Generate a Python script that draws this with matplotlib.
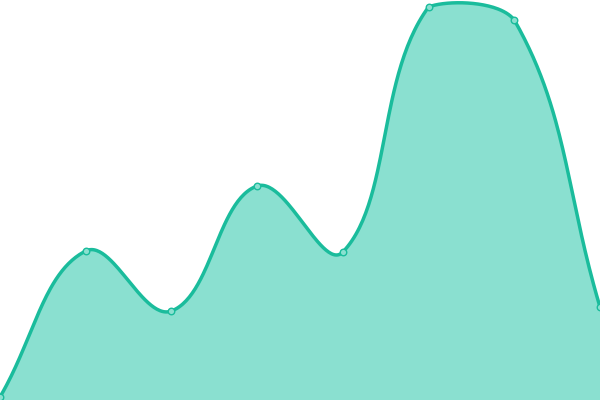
import numpy as np
import matplotlib
matplotlib.use("Agg")
import matplotlib.pyplot as plt

categories = ["A", "B", "C", "D", "E", "F", "G", "H"]
values = [3, 149, 89, 214, 148, 393, 380, 93]

LINE = "#1abc9c"
FILL = "#8ae0d0"
TENSION = 0.4

fig = plt.figure(figsize=(6, 4), dpi=100)
ax = fig.add_axes([0, 0, 1, 1])
ax.set_xlim(0, len(categories) - 1)
ax.set_ylim(0, 400)
ax.axis("off")

x = np.arange(len(categories), dtype=float)
pts = ax.transData.transform(np.column_stack([x, values]))
bb = ax.bbox
n = len(pts)

# spline control points (distance weighted), capped to chart area
cps = []
for i in range(n):
    prev = pts[i - 1] if i > 0 else pts[i]
    cur = pts[i]
    nxt = pts[i + 1] if i < n - 1 else pts[i]
    d01 = np.hypot(*(cur - prev))
    d12 = np.hypot(*(nxt - cur))
    tot = d01 + d12
    s01 = d01 / tot if tot else 0
    s12 = d12 / tot if tot else 0
    cp_prev = cur - TENSION * s01 * (nxt - prev)
    cp_next = cur + TENSION * s12 * (nxt - prev)
    for cp in (cp_prev, cp_next):
        cp[0] = min(max(cp[0], bb.x0), bb.x1)
        cp[1] = min(max(cp[1], bb.y0), bb.y1)
    cps.append((cp_prev, cp_next))

curve = []
t = np.linspace(0, 1, 60)[:, None]
for i in range(n - 1):
    p0 = pts[i]; p1 = cps[i][1]; p2 = cps[i + 1][0]; p3 = pts[i + 1]
    seg = ((1 - t) ** 3) * p0 + 3 * ((1 - t) ** 2) * t * p1 + 3 * (1 - t) * t ** 2 * p2 + t ** 3 * p3
    curve.append(seg if i == 0 else seg[1:])
curve = np.vstack(curve)
data_curve = ax.transData.inverted().transform(curve)
sx, sy = data_curve[:, 0], data_curve[:, 1]

ax.fill_between(sx, sy, 0, color=FILL, lw=0, zorder=1)
ax.plot(sx, sy, color=LINE, lw=2.5, zorder=2, solid_capstyle="round")
ax.scatter(x, values, s=22, facecolor=FILL, edgecolor=LINE, linewidth=1, zorder=3, clip_on=False)
fig.savefig("out.png", dpi=100)
